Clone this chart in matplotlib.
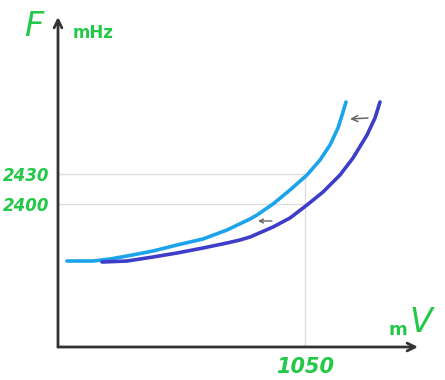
import matplotlib
matplotlib.use('Agg')
import matplotlib.pyplot as plt

# frequency (MHz) vs voltage (mV)
volt_a = [812, 838, 855, 872, 898, 922, 948, 972, 995, 1002, 1018, 1035,
          1052, 1065, 1075, 1083, 1088, 1091]
freq_a = [2343, 2343, 2345, 2348, 2353, 2359, 2365, 2374, 2385, 2389, 2400, 2414,
          2429, 2444, 2459, 2476, 2492, 2502]
volt_b = [847, 872, 898, 922, 948, 972, 985, 995, 1002, 1018, 1035, 1052,
          1068, 1085, 1098, 1112, 1120, 1125]
freq_b = [2342, 2343, 2347, 2351, 2356, 2361, 2364, 2367, 2370, 2377, 2386, 2399,
          2412, 2429, 2446, 2469, 2486, 2502]

ref_volt = 1050
ref_freqs = [2400, 2430]
ytick_labels = ['2400', '2430']
xtick_labels = ['1050']

GREEN = '#22c847'
AXIS = '#333333'

fig = plt.figure(figsize=(4.45, 3.80), dpi=100)
W, H = 445, 380
ax = fig.add_axes([58 / W, (H - 347) / H, (418 - 58) / W, (347 - 17) / H])
ax.set_xlim(803, 1163)
ax.set_ylim(2257, 2587)
for s in ax.spines.values():
    s.set_visible(False)

# axes with arrow heads
ax.annotate('', xy=(0, 1), xytext=(0, 0), xycoords='axes fraction',
            arrowprops=dict(arrowstyle='->', lw=2, color=AXIS,
                            mutation_scale=14, shrinkA=0, shrinkB=0))
ax.annotate('', xy=(1, 0), xytext=(0, 0), xycoords='axes fraction',
            arrowprops=dict(arrowstyle='->', lw=2, color=AXIS,
                            mutation_scale=14, shrinkA=0, shrinkB=0))

# helper lines
for f in ref_freqs:
    ax.plot([803, ref_volt], [f, f], color='#dddddd', lw=1, zorder=1)
ax.plot([ref_volt, ref_volt], [2257, max(ref_freqs)], color='#dddddd', lw=1, zorder=1)

ax.plot(volt_a, freq_a, color='#1ba4ec', lw=2.6, solid_capstyle='round',
        solid_joinstyle='round', zorder=3)
ax.plot(volt_b, freq_b, color='#3d3dc9', lw=2.6, solid_capstyle='round',
        solid_joinstyle='round', zorder=3)

# small shift arrows
ax.annotate('', xy=(1095, 2485), xytext=(1113, 2486),
            arrowprops=dict(arrowstyle='->', lw=1.1, color='#666666',
                            mutation_scale=11, shrinkA=0, shrinkB=0))
ax.annotate('', xy=(1003, 2383), xytext=(1017, 2383),
            arrowprops=dict(arrowstyle='->', lw=1, color='#666666',
                            mutation_scale=7, shrinkA=0, shrinkB=0))

ax.set_yticks(ref_freqs)
ax.set_yticklabels(ytick_labels)
ax.set_xticks([ref_volt])
ax.set_xticklabels(xtick_labels)
ax.tick_params(axis='y', length=0, pad=6, labelcolor=GREEN, labelsize=12)
ax.tick_params(axis='x', length=0, pad=7, labelcolor=GREEN, labelsize=15)
for lbl in ax.get_yticklabels() + ax.get_xticklabels():
    lbl.set_fontstyle('italic')
    lbl.set_fontweight('bold')

fig.text(34 / W, 1 - 27 / H, 'F', color=GREEN, fontsize=24, fontstyle='italic',
         ha='center', va='center')
fig.text(73 / W, 1 - 33 / H, 'mHz', color=GREEN, fontsize=12, fontweight='bold',
         ha='left', va='center')
fig.text(398 / W, 1 - 330 / H, 'm', color=GREEN, fontsize=13, fontweight='bold',
         ha='center', va='center')
fig.text(421 / W, 1 - 322 / H, 'V', color=GREEN, fontsize=24, fontstyle='italic',
         ha='center', va='center')

fig.savefig('out.png', dpi=100)
